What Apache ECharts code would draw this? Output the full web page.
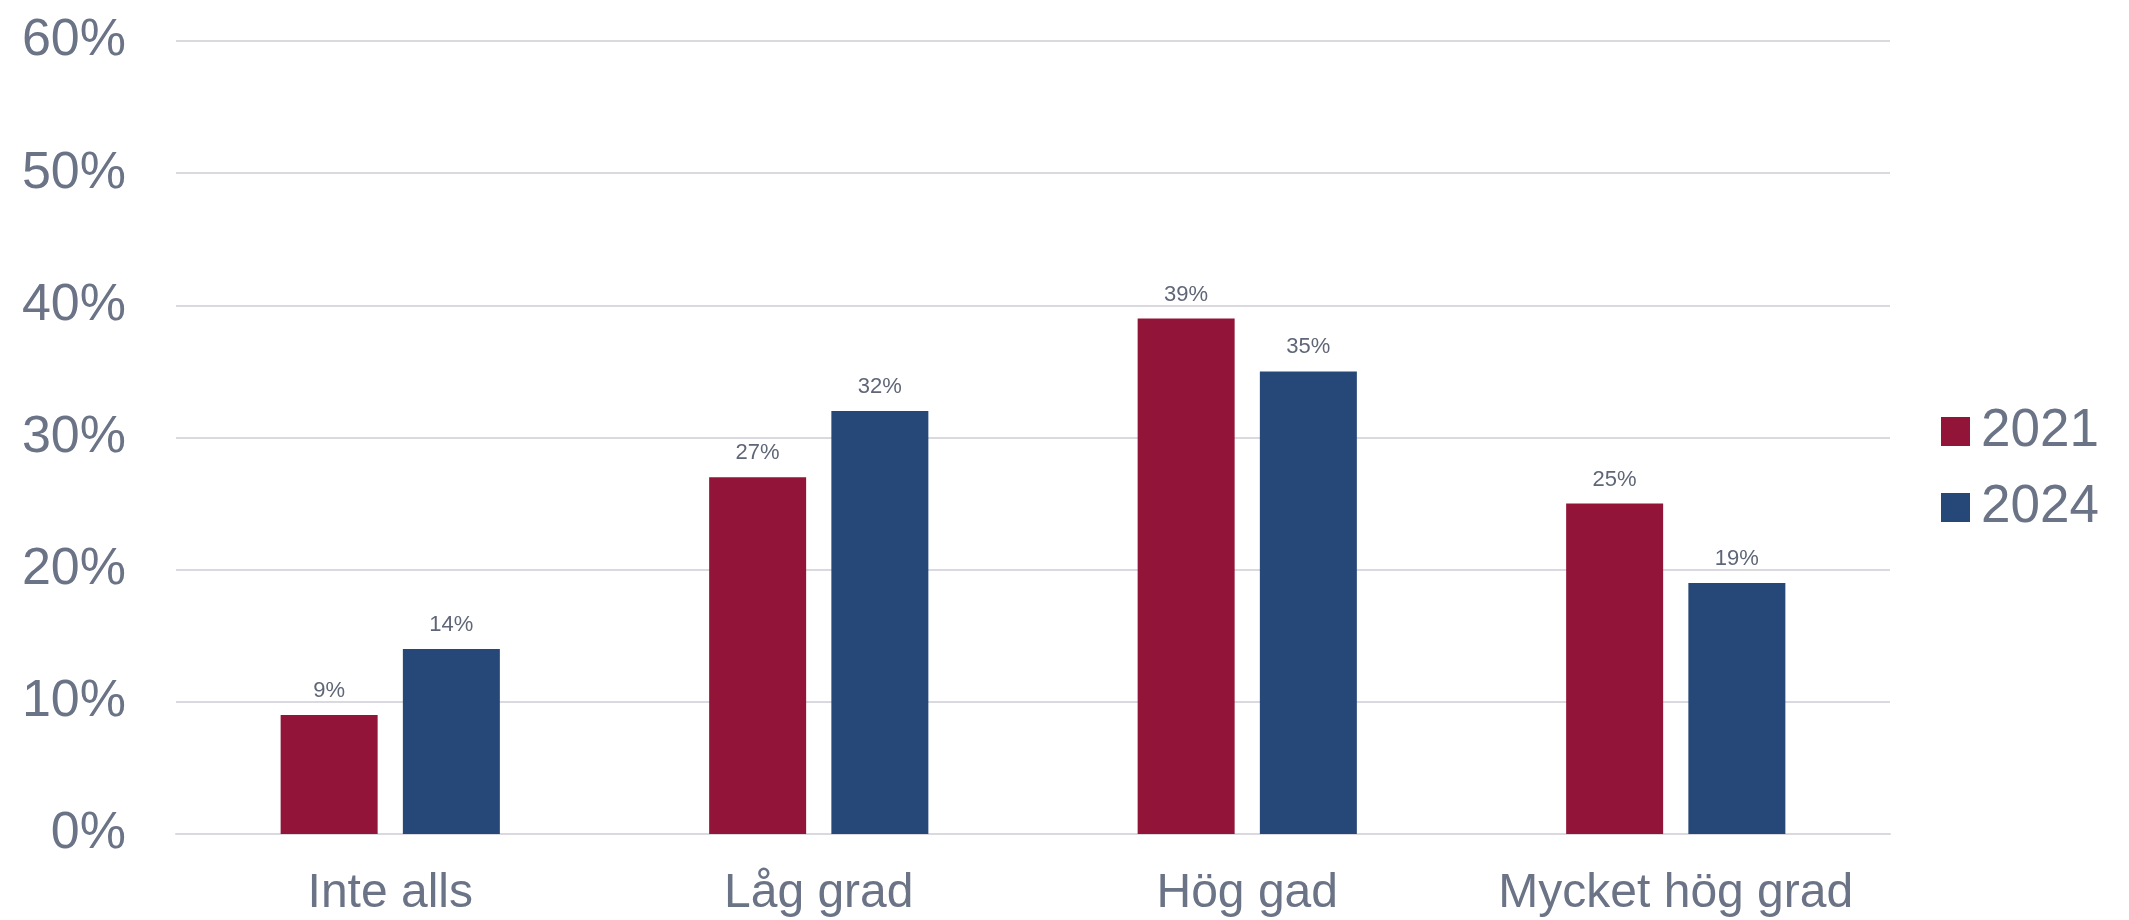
<!DOCTYPE html>
<html lang="sv">
<head>
    <meta charset="UTF-8">
    <title>Grad</title>
    <style>
        html, body { margin: 0; padding: 0; background: #fff; }
    </style>
</head>
<body>
<script src="https://cdn.jsdelivr.net/npm/echarts@6/dist/echarts.min.js"></script>

<div id="main" style="width:2129px;height:920px;"></div>

<script type="text/javascript">
    var categories = ['Inte alls', 'Låg grad', 'Hög gad', 'Mycket hög grad'];
    var values2021 = [9, 27, 39, 25];
    var values2024 = [14, 32, 35, 19];
    var yTicks = [0, 10, 20, 30, 40, 50, 60];

    var textColor = '#6b7386';
    var font = '"Liberation Sans", Arial, sans-serif';

    var barLabel = {
        show: true,
        position: 'top',
        distance: 13,
        color: '#5f6677',
        fontSize: 22,
        fontFamily: font,
        formatter: '{c}%'
    };

    var option = {
        animation: false,
        grid: {
            left: 176,
            right: 239,
            top: 41,
            bottom: 86
        },
        legend: {
            orient: 'vertical',
            left: 1936,
            top: 400,
            itemWidth: 29,
            itemHeight: 29,
            itemGap: 23,
            icon: 'rect',
            textStyle: {
                color: textColor,
                fontSize: 53,
                fontFamily: font,
                padding: [0, 0, 0, 6]
            },
            data: ['2021', '2024']
        },
        xAxis: {
            type: 'category',
            data: categories,
            axisLine: { show: true, lineStyle: { color: '#d9d9df', width: 2 } },
            axisTick: { show: false },
            axisLabel: {
                interval: 0,
                color: textColor,
                fontSize: 48,
                fontFamily: font,
                margin: 36
            }
        },
        yAxis: {
            type: 'value',
            min: yTicks[0],
            max: yTicks[yTicks.length - 1],
            interval: 10,
            axisLine: { show: false },
            axisTick: { show: false },
            splitLine: { lineStyle: { color: '#d9d9df', width: 2 } },
            axisLabel: {
                color: textColor,
                fontSize: 52,
                fontFamily: font,
                margin: 50,
                formatter: '{value}%'
            }
        },
        series: [{
            name: '2021',
            type: 'bar',
            data: values2021,
            barWidth: 97,
            barGap: '26%',
            itemStyle: { color: '#921539' },
            label: barLabel
        }, {
            name: '2024',
            type: 'bar',
            data: values2024,
            barWidth: 97,
            barGap: '26%',
            itemStyle: { color: '#264878' },
            label: barLabel
        }]
    };

    var myChart = echarts.init(document.getElementById('main'));
    myChart.setOption(option);
</script>
</body>
</html>
